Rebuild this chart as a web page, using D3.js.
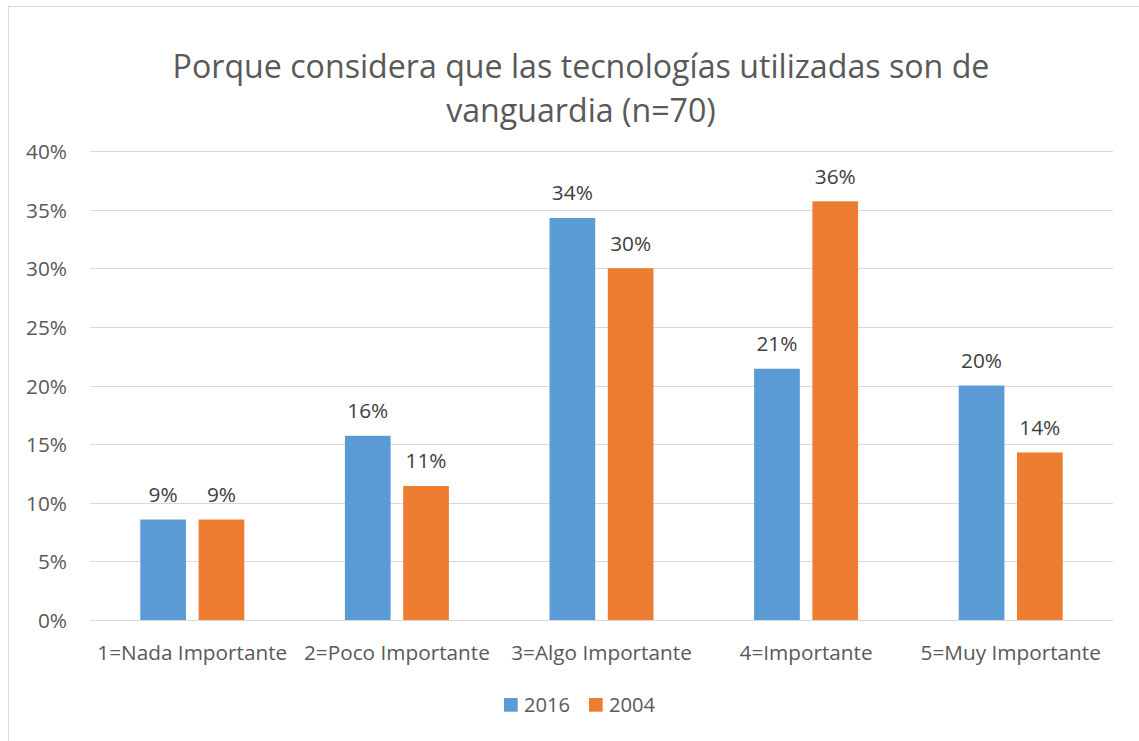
<!DOCTYPE html>
<html>
<head>
<meta charset="utf-8">
<script src="https://cdn.jsdelivr.net/npm/d3@7"></script>
<style>
  html, body { margin: 0; padding: 0; background: #ffffff; }
  svg { display: block; }
</style>
</head>
<body>
<svg id="chart" width="1139" height="741"></svg>
<script>
// ---- data ----
const categories = ["1=Nada Importante", "2=Poco Importante", "3=Algo Importante", "4=Importante", "5=Muy Importante"];
const seriesNames = ["2016", "2004"];
const values2016 = [0.0857, 0.1571, 0.3429, 0.2143, 0.2000];
const values2004 = [0.0857, 0.1143, 0.3000, 0.3571, 0.1429];
const yTicks = [0, 0.05, 0.10, 0.15, 0.20, 0.25, 0.30, 0.35, 0.40];
const titleLines = ["Porque considera que las tecnologías utilizadas son de", "vanguardia (n=70)"];

const colors = { "2016": "#5B9BD5", "2004": "#ED7D31" };
const FONT = "'Open Sans', 'DejaVu Sans', sans-serif";

const svg = d3.select("#chart");

// helper: font size so that text gets a target width
function fitSize(text, target) {
  const t = svg.append("text").attr("font-family", FONT).attr("font-size", 100).text(text);
  const w = t.node().getComputedTextLength();
  t.remove();
  return 100 * target / w;
}

// chart border (cut at right and bottom)
svg.append("rect")
  .attr("x", 8.5).attr("y", 6.5)
  .attr("width", 1200).attr("height", 800)
  .attr("fill", "none").attr("stroke", "#d9d9d9").attr("stroke-width", 1);

const x0 = d3.scaleBand().domain(categories).range([90, 1113]).padding(0);
const x1 = d3.scaleBand().domain(seriesNames).range([0, x0.bandwidth()])
  .paddingInner(0.216).paddingOuter(0.863);
const y = d3.scaleLinear().domain([0, 0.40]).range([620, 151]);

// title
const titleSize = fitSize(titleLines[0], 817);
svg.append("g").selectAll("text").data(titleLines).join("text")
  .attr("x", 581)
  .attr("y", (d, i) => 77.5 + i * 44)
  .attr("text-anchor", "middle")
  .attr("font-family", FONT)
  .attr("font-size", titleSize)
  .attr("fill", "#595959")
  .text(d => d);

// gridlines
svg.append("g").selectAll("line").data(yTicks).join("line")
  .attr("x1", 90).attr("x2", 1113)
  .attr("y1", d => Math.round(y(d)) + 0.5).attr("y2", d => Math.round(y(d)) + 0.5)
  .attr("stroke", "#d9d9d9").attr("stroke-width", 1);

// y axis labels
const tickSize = fitSize("40%", 41);
const yAxis = d3.axisLeft(y).tickValues(yTicks).tickFormat(d3.format(".0%")).tickSize(0).tickPadding(0);
const yg = svg.append("g").attr("transform", "translate(67,0)").call(yAxis);
yg.select(".domain").remove();
yg.selectAll("text")
  .attr("font-family", FONT).attr("font-size", tickSize).attr("fill", "#595959")
  .attr("dy", "0.36em").attr("x", 0);

// x axis labels
const catSize = fitSize("1=Nada Importante", 190);
const xAxis = d3.axisBottom(x0).tickSize(0).tickPadding(0);
const xg = svg.append("g").attr("transform", "translate(0,620)").call(xAxis);
xg.select(".domain").remove();
xg.selectAll("text")
  .attr("font-family", FONT).attr("font-size", catSize).attr("fill", "#595959")
  .attr("y", 40).attr("dy", 0);

// bars
const rows = categories.map((c, i) => ({ cat: c, vals: [
  { s: "2016", v: values2016[i] }, { s: "2004", v: values2004[i] } ] }));

const groups = svg.append("g").selectAll("g").data(rows).join("g")
  .attr("transform", d => `translate(${x0(d.cat)},0)`);

groups.selectAll("rect").data(d => d.vals).join("rect")
  .attr("x", d => x1(d.s))
  .attr("width", x1.bandwidth())
  .attr("y", d => y(d.v))
  .attr("height", d => y(0) - y(d.v))
  .attr("fill", d => colors[d.s]);

const labelSize = fitSize("34%", 41);
groups.selectAll("text").data(d => d.vals).join("text")
  .attr("x", d => x1(d.s) + x1.bandwidth() / 2)
  .attr("y", d => y(d.v) - 17.5)
  .attr("text-anchor", "middle")
  .attr("font-family", FONT).attr("font-size", labelSize).attr("fill", "#404040")
  .text(d => d3.format(".0%")(d.v));

// legend
const legSize = fitSize("2016", 46);
const legX = [504, 589];
const leg = svg.append("g").selectAll("g").data(seriesNames).join("g")
  .attr("transform", (d, i) => `translate(${legX[i]},698)`);
leg.append("rect").attr("width", 13.7).attr("height", 13.7).attr("fill", d => colors[d]);
leg.append("text").attr("x", 20).attr("y", 13.7)
  .attr("font-family", FONT).attr("font-size", legSize).attr("fill", "#595959")
  .text(d => d);
</script>
</body>
</html>
